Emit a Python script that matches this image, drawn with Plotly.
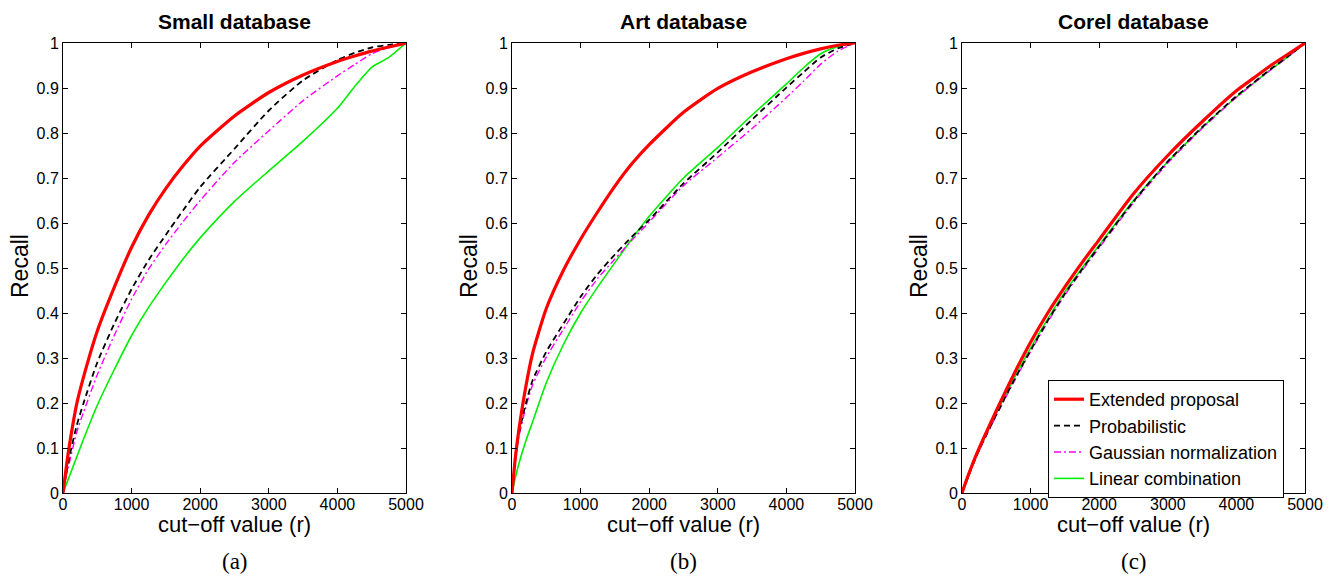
import plotly.graph_objects as go

# ---------------- data ----------------
cutoff = [0, 50, 100, 200, 300, 500, 750, 1000, 1250, 1500, 1750, 2000, 2500, 3000, 3500, 4000, 4250, 4500, 4750, 5000]

panel_titles = ["Small database", "Art database", "Corel database"]
panel_labels = ["(a)", "(b)", "(c)"]
series_names = ["Extended proposal", "Probabilistic", "Gaussian normalization", "Linear combination"]

# Small database
small_extended = [0, 0.06, 0.112, 0.198, 0.258, 0.36, 0.458, 0.546, 0.618, 0.677, 0.727, 0.771, 0.838, 0.89, 0.929, 0.959, 0.971, 0.982, 0.991, 1]
small_prob     = [0, 0.045, 0.085, 0.15, 0.2, 0.29, 0.377, 0.453, 0.518, 0.574, 0.628, 0.68, 0.765, 0.85, 0.917, 0.962, 0.978, 0.99, 0.996, 1]
small_gauss    = [0, 0.04, 0.072, 0.135, 0.18, 0.263, 0.351, 0.431, 0.498, 0.553, 0.603, 0.65, 0.735, 0.805, 0.872, 0.927, 0.952, 0.976, 0.99, 1]
small_linear   = [0, 0.02, 0.04, 0.08, 0.12, 0.195, 0.275, 0.35, 0.413, 0.468, 0.52, 0.567, 0.648, 0.716, 0.782, 0.855, 0.903, 0.946, 0.968, 1]

# Art database
art_extended = [0, 0.08, 0.14, 0.235, 0.31, 0.41, 0.495, 0.564, 0.625, 0.682, 0.732, 0.774, 0.846, 0.899, 0.936, 0.965, 0.977, 0.987, 0.995, 1]
art_prob     = [0, 0.08, 0.132, 0.198, 0.25, 0.314, 0.376, 0.436, 0.487, 0.53, 0.57, 0.607, 0.688, 0.757, 0.83, 0.901, 0.935, 0.968, 0.988, 1]
art_gauss    = [0, 0.075, 0.125, 0.19, 0.24, 0.302, 0.364, 0.425, 0.477, 0.52, 0.562, 0.602, 0.683, 0.746, 0.81, 0.879, 0.915, 0.953, 0.982, 1]
art_linear   = [0, 0.035, 0.065, 0.115, 0.158, 0.245, 0.33, 0.40, 0.458, 0.512, 0.565, 0.615, 0.7, 0.768, 0.84, 0.909, 0.945, 0.976, 0.992, 1]

# Corel database
corel_extended = [0, 0.022, 0.043, 0.082, 0.117, 0.183, 0.262, 0.335, 0.40, 0.458, 0.512, 0.563, 0.665, 0.75, 0.825, 0.894, 0.922, 0.95, 0.975, 1]
corel_prob     = [0, 0.02, 0.04, 0.078, 0.112, 0.174, 0.248, 0.317, 0.383, 0.443, 0.497, 0.548, 0.648, 0.737, 0.813, 0.882, 0.912, 0.942, 0.97, 1]
corel_gauss    = [0, 0.02, 0.04, 0.077, 0.11, 0.172, 0.245, 0.314, 0.38, 0.44, 0.494, 0.545, 0.645, 0.733, 0.81, 0.879, 0.91, 0.94, 0.969, 1]
corel_linear   = [0, 0.021, 0.041, 0.079, 0.113, 0.177, 0.252, 0.322, 0.387, 0.447, 0.5, 0.551, 0.65, 0.736, 0.812, 0.88, 0.911, 0.941, 0.969, 1]

x_ticks = [0, 1000, 2000, 3000, 4000, 5000]
y_ticks = [0, 0.1, 0.2, 0.3, 0.4, 0.5, 0.6, 0.7, 0.8, 0.9, 1]
y_tick_text = ["0", "0.1", "0.2", "0.3", "0.4", "0.5", "0.6", "0.7", "0.8", "0.9", "1"]

panels = [
    [small_extended, small_prob, small_gauss, small_linear],
    [art_extended, art_prob, art_gauss, art_linear],
    [corel_extended, corel_prob, corel_gauss, corel_linear],
]

# ---------------- styles / layout ----------------
OFF = 8                      # page body margin of the browser
W, H = 1333 - OFF, 576 - OFF


def px_x(px):
    return (px - OFF) / W


def px_y(py):
    return 1 - (py - OFF) / H


styles = [
    dict(color="#ff0000", width=3.2, dash="solid"),
    dict(color="#000000", width=1.8, dash="6px,4px"),
    dict(color="#ff00ff", width=1.4, dash="7px,3px,2px,3px"),
    dict(color="#00ee00", width=1.6, dash="solid"),
]
draw_order = [3, 2, 1, 0]

x_px = [(63, 406), (512, 855), (962, 1305)]
y_top, y_bot = 43, 493
yd = [px_y(y_bot), px_y(y_top)]

fig = go.Figure()
SANS = "Liberation Sans, Arial, Helvetica, sans-serif"
SERIF = "Liberation Serif, Times New Roman, serif"

for p in range(3):
    xa = "x" if p == 0 else f"x{p+1}"
    ya = "y" if p == 0 else f"y{p+1}"
    for s in draw_order:
        fig.add_trace(go.Scatter(
            x=cutoff, y=panels[p][s], mode="lines", name=series_names[s],
            line=dict(shape="spline", smoothing=0.6, **styles[s]),
            xaxis=xa, yaxis=ya, showlegend=(p == 2), legendrank=s + 1,
            hoverinfo="skip",
        ))
    axis_common = dict(
        showline=True, linecolor="black", linewidth=1, mirror="ticks",
        ticks="inside", ticklen=5, tickcolor="black", tickwidth=1,
        showgrid=False, zeroline=False, automargin=False,
        tickfont=dict(family=SANS, size=16, color="black"),
    )
    d = [px_x(x_px[p][0]), px_x(x_px[p][1])]
    xkey = "xaxis" if p == 0 else f"xaxis{p+1}"
    ykey = "yaxis" if p == 0 else f"yaxis{p+1}"
    fig.update_layout(**{
        xkey: dict(domain=d, range=[0, 5000], tickvals=x_ticks, anchor=ya, ticklabelstandoff=-3, **axis_common),
        ykey: dict(domain=yd, range=[0, 1], tickvals=y_ticks, ticktext=y_tick_text, anchor=xa, **axis_common),
    })
    cxp = (x_px[p][0] + x_px[p][1]) / 2
    fig.add_annotation(text="<b>" + panel_titles[p] + "</b>", x=px_x(cxp), y=px_y(22), xref="paper", yref="paper",
                       showarrow=False, font=dict(family=SANS, size=21, color="black"), xanchor="center", yanchor="middle")
    fig.add_annotation(text="cut\u2212off value (r)", x=px_x(cxp), y=px_y(524), xref="paper", yref="paper",
                       showarrow=False, font=dict(family=SANS, size=22, color="black"), xanchor="center", yanchor="middle")
    fig.add_annotation(text=panel_labels[p], x=px_x(cxp), y=px_y(561), xref="paper", yref="paper",
                       showarrow=False, font=dict(family=SERIF, size=23, color="black"), xanchor="center", yanchor="middle")
    fig.add_annotation(text="Recall", x=px_x(x_px[p][0] - 43), y=px_y(266), xref="paper", yref="paper",
                       showarrow=False, textangle=-90, font=dict(family=SANS, size=23, color="black"),
                       xanchor="center", yanchor="middle")

fig.update_layout(
    width=W, height=H, margin=dict(l=0, r=0, t=0, b=0, pad=0, autoexpand=False),
    paper_bgcolor="white", plot_bgcolor="white",
    legend=dict(x=px_x(1048), y=px_y(380), xanchor="left", yanchor="top",
                bordercolor="black", borderwidth=1, bgcolor="white",
                font=dict(family=SANS, size=18, color="black"), tracegroupgap=0,
                itemwidth=30),
)

fig.write_html("out.html")
